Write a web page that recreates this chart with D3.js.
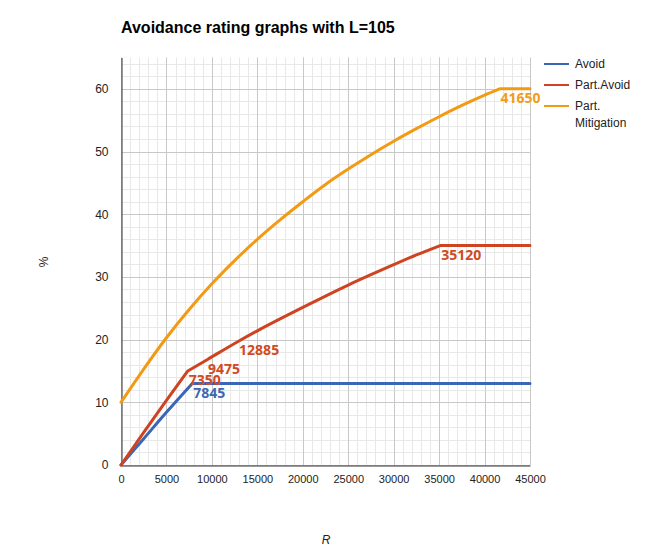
<!DOCTYPE html>
<html>
<head>
<meta charset="utf-8">
<script src="https://cdn.jsdelivr.net/npm/d3@7"></script>
<style>
  body { margin: 0; background: #fff; }
  svg { display: block; }
</style>
</head>
<body>
<svg id="chart" width="650" height="560"></svg>
<script>
// ---- data ----
const seriesNames = ["Avoid", "Part.Avoid", "Part.\nMitigation"];
const avoidR   = [0, 2500, 5000, 7845, 45000];
const avoidV   = [0, 4.2, 8.4, 13, 13];
const partAvoidR = [0, 2500, 5000, 7350, 9475, 12885, 15000, 17500, 20000, 22500, 25000, 27500, 30000, 32500, 35120, 45000];
const partAvoidV = [0, 5.2, 10.3, 15, 16.8, 19.7, 21.4, 23.3, 25.15, 26.95, 28.7, 30.35, 31.95, 33.5, 35, 35];
const partMitR = [0, 2500, 5000, 7500, 10000, 12500, 15000, 17500, 20000, 22500, 25000, 27500, 30000, 32500, 35000, 37500, 40000, 41650, 45000];
const partMitV = [10, 15.3, 20.3, 24.8, 28.9, 32.6, 36.0, 39.1, 42.0, 44.75, 47.2, 49.5, 51.65, 53.65, 55.55, 57.35, 59.0, 60, 60];
// kink points (sharp corners) per series
const avoidKinks = [7845];
const partAvoidKinks = [7350, 35120];
const partMitKinks = [41650];
// point labels per series
const avoidLabels = [7845];
const partAvoidLabels = [7350, 9475, 12885, 35120];
const partMitLabels = [41650];
const xTicks = [0, 5000, 10000, 15000, 20000, 25000, 30000, 35000, 40000, 45000];
const yTicks = [0, 10, 20, 30, 40, 50, 60];
const colors = ["#3a66b7", "#cf4420", "#f39a14"];
const labelColors = ["#3c67b4", "#d04a22", "#f29c1c"];

const series = [
  { name: seriesNames[0], R: avoidR, V: avoidV, kinks: avoidKinks, labels: avoidLabels },
  { name: seriesNames[1], R: partAvoidR, V: partAvoidV, kinks: partAvoidKinks, labels: partAvoidLabels },
  { name: seriesNames[2], R: partMitR, V: partMitV, kinks: partMitKinks, labels: partMitLabels }
];

// ---- chart ----
const svg = d3.select("#chart");
const x = d3.scaleLinear().domain([0, 45000]).range([121, 530]);
const y = d3.scaleLinear().domain([0, 65]).range([465, 57.5]);

// minor grid
const g = svg.append("g");
g.selectAll("line.vminor").data(d3.range(0, 45001, 1000)).join("line")
  .attr("x1", d => Math.round(x(d)) + 0.5).attr("x2", d => Math.round(x(d)) + 0.5)
  .attr("y1", y(65)).attr("y2", y(0))
  .attr("stroke", "#e8e8e8").attr("stroke-width", 1);
g.selectAll("line.hminor").data(d3.range(0, 65.01, 2)).join("line")
  .attr("x1", x(0)).attr("x2", x(45000))
  .attr("y1", d => Math.round(y(d)) + 0.5).attr("y2", d => Math.round(y(d)) + 0.5)
  .attr("stroke", "#e8e8e8").attr("stroke-width", 1);
// major grid
g.selectAll("line.vmajor").data(xTicks).join("line")
  .attr("x1", d => Math.round(x(d)) + 0.5).attr("x2", d => Math.round(x(d)) + 0.5)
  .attr("y1", y(65)).attr("y2", y(0))
  .attr("stroke", "#c8c8c8").attr("stroke-width", 1);
g.selectAll("line.hmajor").data(yTicks).join("line")
  .attr("x1", x(0)).attr("x2", x(45000))
  .attr("y1", d => Math.round(y(d)) + 0.5).attr("y2", d => Math.round(y(d)) + 0.5)
  .attr("stroke", "#c8c8c8").attr("stroke-width", 1);

// axes
const xAxis = d3.axisBottom(x).tickValues(xTicks).tickSize(0).tickPadding(10).tickFormat(d3.format("d"));
const yAxis = d3.axisLeft(y).tickValues(yTicks).tickSize(0).tickPadding(13).tickFormat(d3.format("d"));
const gx = svg.append("g").attr("transform", "translate(0,465.5)").call(xAxis);
const gy = svg.append("g").attr("transform", "translate(121.5,0)").call(yAxis);
gx.select(".domain").attr("stroke", "#333");
gy.select(".domain").attr("stroke", "#333");
gx.selectAll("text").attr("font-family", "Liberation Sans, Arial, sans-serif").attr("font-size", 11).attr("fill", "#222");
gy.selectAll("text").attr("font-family", "Liberation Sans, Arial, sans-serif").attr("font-size", 12).attr("fill", "#222");

// series lines
series.forEach((s, i) => {
  const pts = s.R.map((r, k) => [r, s.V[k]]);
  const segs = [];
  let cur = [];
  pts.forEach(p => {
    cur.push(p);
    if (s.kinks.includes(p[0])) { segs.push(cur); cur = [p]; }
  });
  if (cur.length > 1) segs.push(cur);
  const line = d3.line().x(d => x(d[0])).y(d => y(d[1])).curve(d3.curveMonotoneX);
  const d = segs.map(seg => line(seg)).join("");
  svg.append("path").attr("d", d).attr("fill", "none")
    .attr("stroke", colors[i]).attr("stroke-width", 3)
    .attr("stroke-linejoin", "round").attr("stroke-linecap", "round");
});

// point labels
series.forEach((s, i) => {
  s.labels.forEach(r => {
    const k = s.R.indexOf(r);
    svg.append("text")
      .attr("x", x(r) + 1).attr("y", y(s.V[k]) + 14)
      .attr("font-family", "Open Sans, sans-serif").attr("font-weight", "bold")
      .attr("font-size", 14).attr("fill", labelColors[i])
      .text(r);
  });
});

// title
svg.append("text").attr("x", 121).attr("y", 33)
  .attr("font-family", "Liberation Sans, Arial, sans-serif").attr("font-weight", "bold")
  .attr("font-size", 16).attr("fill", "#000")
  .text("Avoidance rating graphs with L=105");

// legend
const legendY = [64, 85, 106];
series.forEach((s, i) => {
  svg.append("line").attr("x1", 544).attr("x2", 569)
    .attr("y1", legendY[i]).attr("y2", legendY[i])
    .attr("stroke", colors[i]).attr("stroke-width", 2);
  const t = svg.append("text").attr("x", 575).attr("y", legendY[i] + 4)
    .attr("font-family", "Liberation Sans, Arial, sans-serif").attr("font-size", 12).attr("fill", "#222");
  s.name.split("\n").forEach((ln, j) => {
    t.append("tspan").attr("x", 575).attr("dy", j === 0 ? 0 : 17).text(ln);
  });
});

// axis titles
svg.append("text").attr("transform", "translate(48,262) rotate(-90)")
  .attr("text-anchor", "middle")
  .attr("font-family", "Liberation Sans, Arial, sans-serif").attr("font-size", 12).attr("fill", "#222")
  .text("%");
svg.append("text").attr("x", 326).attr("y", 544).attr("text-anchor", "middle")
  .attr("font-family", "Liberation Sans, Arial, sans-serif").attr("font-style", "italic")
  .attr("font-size", 12).attr("fill", "#222")
  .text("R");
</script>
</body>
</html>
